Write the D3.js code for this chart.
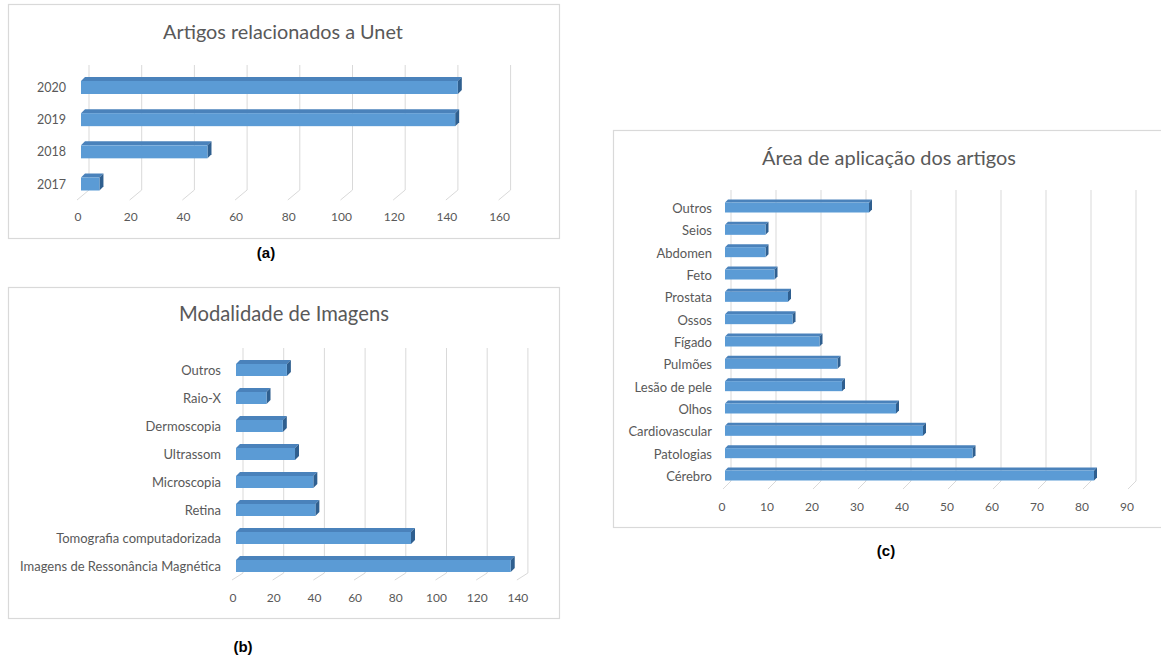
<!DOCTYPE html>
<html>
<head>
<meta charset="utf-8">
<script src="https://cdn.jsdelivr.net/npm/d3@7"></script>
<style>
  body { margin: 0; background: #fff; }
  svg { display: block; font-family: Lato, "Open Sans", sans-serif; }
</style>
</head>
<body>
<svg width="1161" height="659"></svg>
<script>
// ---- dados ----
var anos = ["2017", "2018", "2019", "2020"];
var artigosAno = [7, 48, 142, 143];
var ticksAno = [0, 20, 40, 60, 80, 100, 120, 140, 160];

var modalidades = ["Imagens de Ressonância Magnética", "Tomografia computadorizada", "Retina",
  "Microscopia", "Ultrassom", "Dermoscopia", "Raio-X", "Outros"];
var artigosModalidade = [135, 86, 39, 38, 29, 23, 15, 25];
var ticksModalidade = [0, 20, 40, 60, 80, 100, 120, 140];

var areas = ["Cérebro", "Patologias", "Cardiovascular", "Olhos", "Lesão de pele", "Pulmões",
  "Fígado", "Ossos", "Prostata", "Feto", "Abdomen", "Seios", "Outros"];
var artigosArea = [82, 55, 44, 38, 26, 25, 21, 15, 14, 11, 9, 9, 32];
var ticksArea = [0, 10, 20, 30, 40, 50, 60, 70, 80, 90];

var svg = d3.select("svg");
var textColor = "#595959";

function drawChart(c) {
  var g = svg.append("g");

  g.append("rect")
    .attr("x", c.box[0] + 0.5).attr("y", c.box[1] + 0.5)
    .attr("width", c.box[2] - c.box[0]).attr("height", c.box[3] - c.box[1])
    .attr("fill", "#fff").attr("stroke", "#d9d9d9").attr("stroke-width", 1.2);

  // titulo, ajustado a largura do original
  var t = g.append("text")
    .attr("x", c.titleX).attr("y", c.titleY)
    .attr("text-anchor", "middle").attr("dominant-baseline", "central")
    .attr("fill", textColor).style("font-size", "18px")
    .text(c.title);
  var w = t.node().getComputedTextLength();
  t.style("font-size", (18 * c.titleW / w).toFixed(2) + "px");

  var x = d3.scaleLinear().domain([0, c.ticks[c.ticks.length - 1]]).range(c.xRange);
  var y = d3.scalePoint().domain(c.cats).range(c.yRange);

  // linhas de grade (parede do fundo + chao em perspectiva)
  var grid = g.append("g").attr("stroke", "#d9d9d9").attr("fill", "none").attr("stroke-width", 1);
  grid.selectAll("path").data(c.ticks).enter().append("path")
    .attr("d", function(v) {
      var xb = x(v) + c.grid.back, xf = x(v) + c.grid.front;
      return "M" + xb + "," + c.grid.top + "V" + c.grid.backY + "L" + xf + "," + c.grid.frontY;
    });

  // rotulos do eixo x
  g.selectAll("text.tick").data(c.ticks).enter().append("text")
    .attr("class", "tick")
    .attr("x", function(v) { return x(v) - 3; })
    .attr("y", c.tickY)
    .attr("text-anchor", "middle").attr("dominant-baseline", "central")
    .attr("fill", textColor).style("font-size", "12px")
    .text(function(v) { return v; });

  // rotulos das categorias
  g.selectAll("text.cat").data(c.cats).enter().append("text")
    .attr("class", "cat")
    .attr("x", c.catX)
    .attr("y", function(d) { return y(d) + 2; })
    .attr("text-anchor", "end").attr("dominant-baseline", "central")
    .attr("fill", textColor).style("font-size", c.catSize + "px")
    .text(function(d) { return d; });

  // barras 3D
  var h = c.barH, d = c.depth;
  var bars = g.selectAll("g.bar").data(c.vals).enter().append("g").attr("class", "bar");
  bars.append("path")
    .attr("fill", "#4a82bb")
    .attr("d", function(v, i) {
      var x0 = x(0), x1 = x(v), yt = y(c.cats[i]) - h / 2 + d / 2;
      return "M" + x0 + "," + yt + "L" + (x0 + d) + "," + (yt - d) + "L" + (x1 + d) + "," + (yt - d) +
        "L" + x1 + "," + yt + "Z";
    });
  bars.append("path")
    .attr("fill", "#2f5f8f")
    .attr("d", function(v, i) {
      var x1 = x(v), yt = y(c.cats[i]) - h / 2 + d / 2;
      return "M" + x1 + "," + yt + "L" + (x1 + d) + "," + (yt - d) + "L" + (x1 + d) + "," + (yt + h - d) +
        "L" + x1 + "," + (yt + h) + "Z";
    });
  bars.append("rect")
    .attr("fill", "#5b9bd5")
    .attr("x", x(0))
    .attr("y", function(v, i) { return y(c.cats[i]) - h / 2 + d / 2; })
    .attr("width", function(v) { return x(v) - x(0); })
    .attr("height", h);

  svg.append("text")
    .attr("x", c.capX).attr("y", c.capY)
    .attr("text-anchor", "middle").attr("dominant-baseline", "central")
    .style("font-family", "Liberation Sans, Arial, sans-serif")
    .style("font-size", "15px").style("font-weight", "bold")
    .attr("fill", "#000")
    .text(c.caption);
}

drawChart({
  box: [8, 4, 559, 238], title: "Artigos relacionados a Unet", titleX: 283, titleY: 31, titleW: 240,
  cats: anos, vals: artigosAno, ticks: ticksAno,
  xRange: [81, 81 + 160 * 2.635], yRange: [182, 85.5],
  grid: { top: 65, backY: 190, frontY: 200, back: 8, front: -4 },
  tickY: 216, catX: 66, catSize: 12.5, barH: 13, depth: 4,
  caption: "(a)", capX: 266, capY: 252
});

drawChart({
  box: [8, 287, 559, 618], title: "Modalidade de Imagens", titleX: 284, titleY: 313, titleW: 210,
  cats: modalidades, vals: artigosModalidade, ticks: ticksModalidade,
  xRange: [236, 236 + 140 * 2.035], yRange: [564, 368],
  grid: { top: 348, backY: 573, frontY: 580, back: 7, front: -4 },
  tickY: 597, catX: 221, catSize: 13, barH: 12, depth: 4,
  caption: "(b)", capX: 243, capY: 646
});

drawChart({
  box: [613, 130, 1164, 527], title: "Área de aplicação dos artigos", titleX: 889, titleY: 157, titleW: 254,
  cats: areas, vals: artigosArea, ticks: ticksArea,
  xRange: [725, 725 + 90 * 4.5], yRange: [474, 206],
  grid: { top: 190, backY: 481, frontY: 489, back: 6, front: -2 },
  tickY: 506, catX: 712, catSize: 13, barH: 10, depth: 3,
  caption: "(c)", capX: 886, capY: 550
});
</script>
</body>
</html>
